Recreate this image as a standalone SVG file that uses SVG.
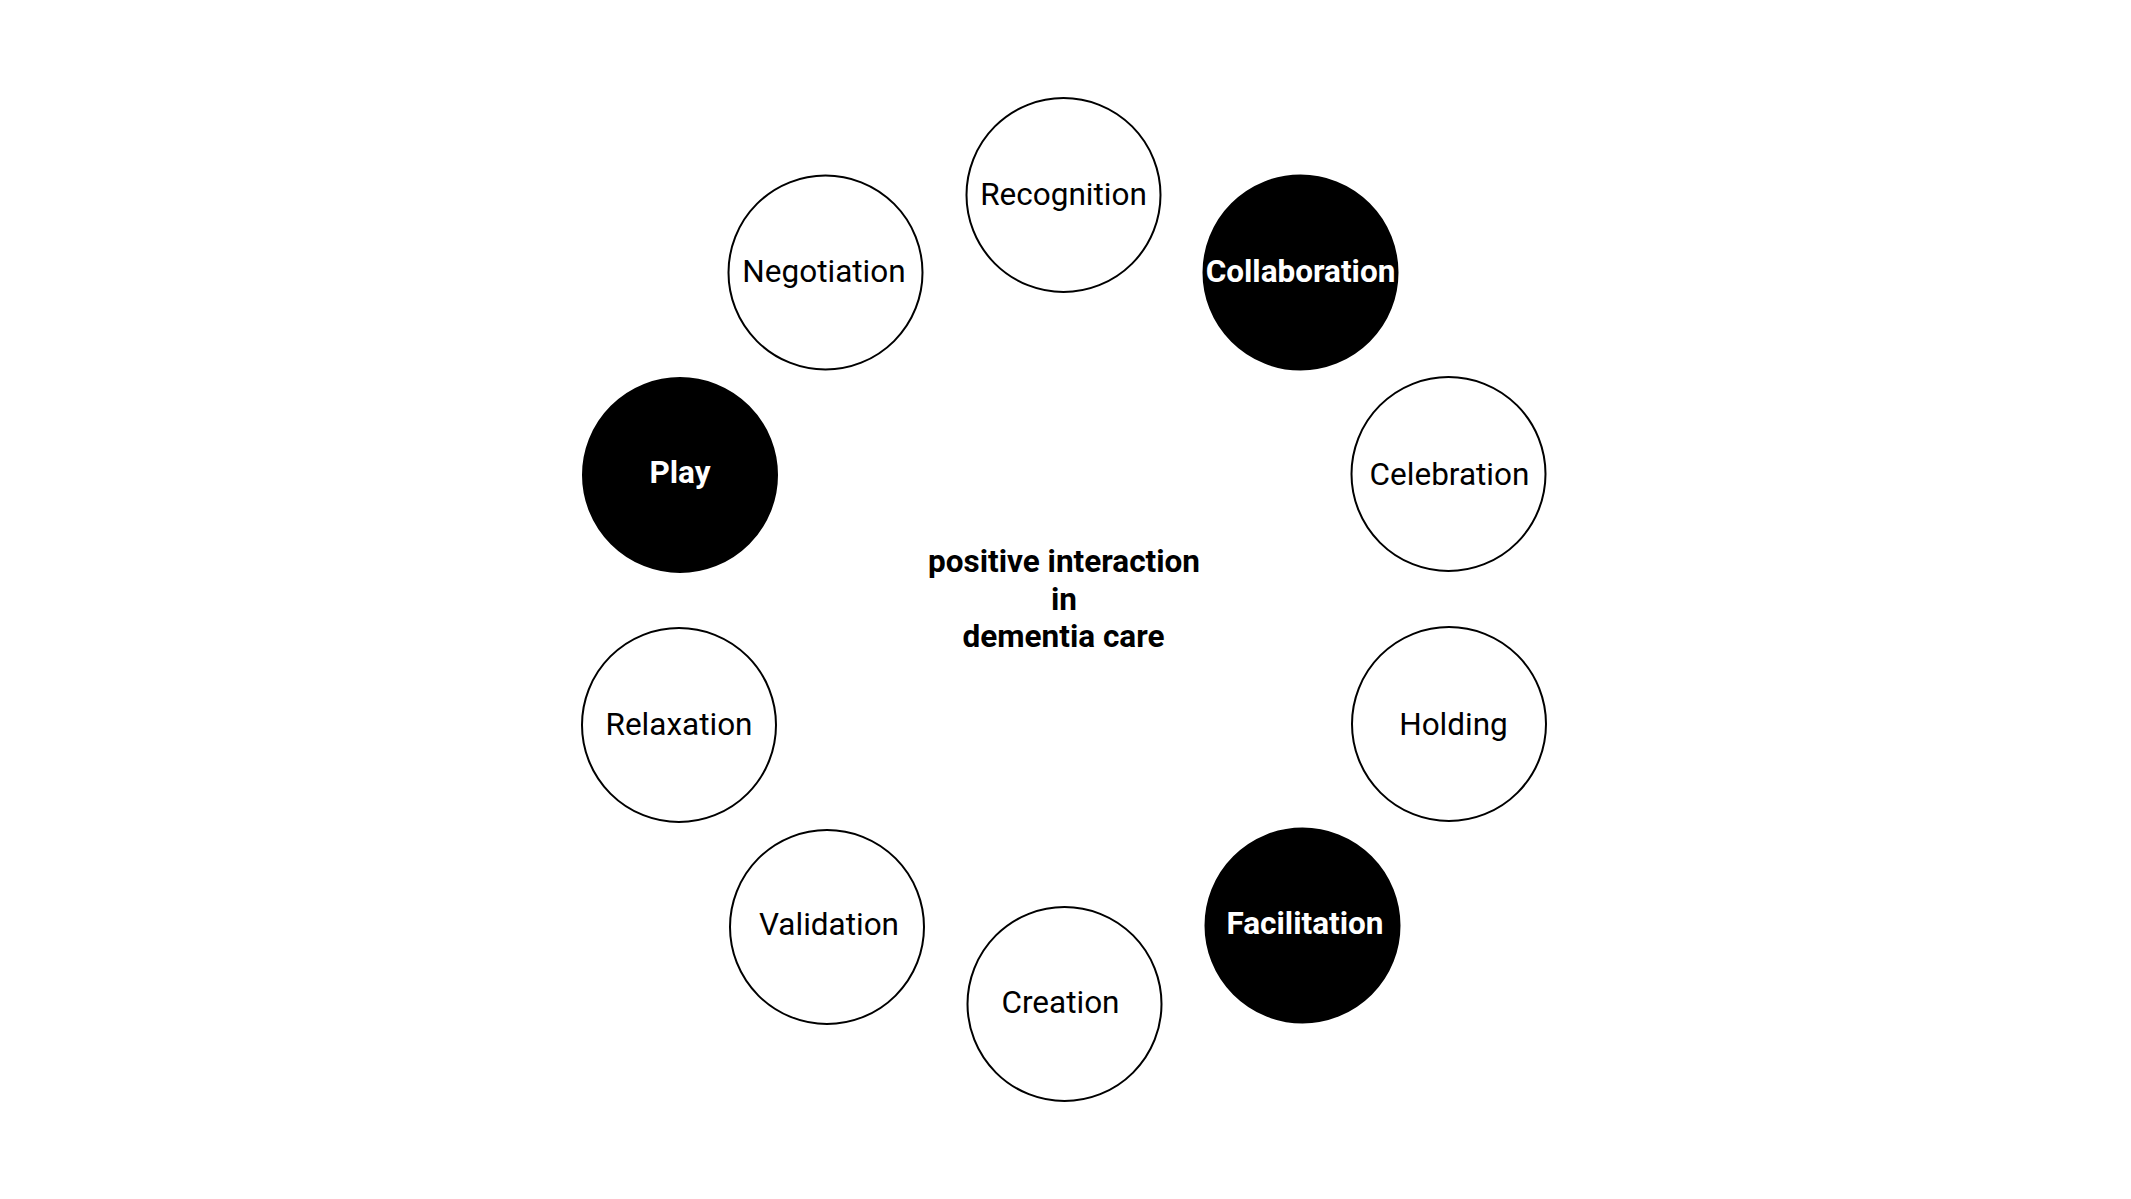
<svg xmlns="http://www.w3.org/2000/svg" width="2131" height="1199" viewBox="0 0 2131 1199">
<style>
.o{fill:#fff;stroke:#000;stroke-width:2}
.f{fill:#000;stroke:#000;stroke-width:2}
.t{font-family:Roboto,"Liberation Sans",sans-serif;font-size:31.5px;text-anchor:middle;fill:#000}
.w{font-family:Roboto,"Liberation Sans",sans-serif;font-size:31.5px;font-weight:bold;text-anchor:middle;fill:#fff}
.c{font-family:Roboto,"Liberation Sans",sans-serif;font-size:31.5px;font-weight:bold;text-anchor:middle;fill:#000}
</style>
<rect width="2131" height="1199" fill="#fff"/>
<g id="connectors"/>
<g id="recognition"><circle class="o" cx="1063.5" cy="195" r="97"/><text class="t" x="1063.5" y="205">Recognition</text></g>
<g id="collaboration"><circle class="f" cx="1300.5" cy="272.5" r="97"/><text class="w" x="1300.5" y="282">Collaboration</text></g>
<g id="negotiation"><circle class="o" cx="825.5" cy="272.5" r="97"/><text class="t" x="824" y="282">Negotiation</text></g>
<g id="play"><circle class="f" cx="680" cy="475" r="97"/><text class="w" x="680" y="483">Play</text></g>
<g id="celebration"><circle class="o" cx="1448.5" cy="474" r="97"/><text class="t" x="1449.5" y="485">Celebration</text></g>
<g id="holding"><circle class="o" cx="1449" cy="724" r="97"/><text class="t" x="1453.5" y="735">Holding</text></g>
<g id="relaxation"><circle class="o" cx="679" cy="725" r="97"/><text class="t" x="679" y="735">Relaxation</text></g>
<g id="validation"><circle class="o" cx="827" cy="927" r="97"/><text class="t" x="829" y="935">Validation</text></g>
<g id="creation"><circle class="o" cx="1064.5" cy="1004" r="97"/><text class="t" x="1060.5" y="1013">Creation</text></g>
<g id="facilitation"><circle class="f" cx="1302.5" cy="925.5" r="97"/><text class="w" x="1305" y="934">Facilitation</text></g>
<g id="center"><text class="c" x="1064" y="572">positive interaction</text><text class="c" x="1064" y="610">in</text><text class="c" x="1063.5" y="647">dementia care</text></g>
</svg>
